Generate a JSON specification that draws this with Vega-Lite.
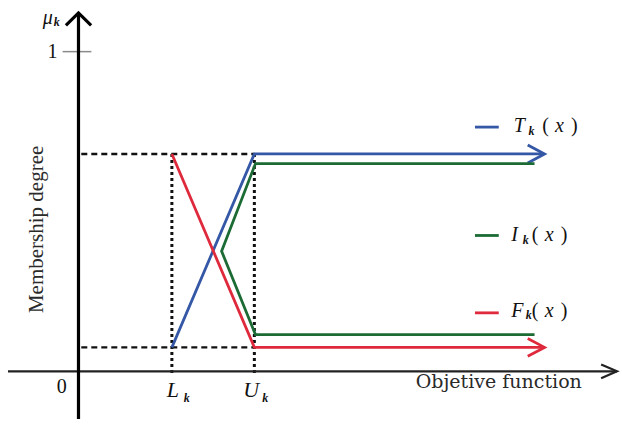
{
  "$schema": "https://vega.github.io/schema/vega-lite/v6.json",
  "width": 622,
  "height": 426,
  "autosize": {"type": "fit", "contains": "padding"},
  "padding": 0,
  "background": "white",
  "config": {"view": {"stroke": null}},
  "datasets": {
    "guides": [
      {"id": "top", "o": 1, "x": 0.03, "y": 0.68},
      {"id": "top", "o": 2, "x": 1.883, "y": 0.68},
      {"id": "bot", "o": 1, "x": 0.03, "y": 0.075},
      {"id": "bot", "o": 2, "x": 1.883, "y": 0.075}
    ],
    "dots": [
      {"id": "L", "o": 1, "x": 1.0, "y": 0.68},
      {"id": "L", "o": 2, "x": 1.0, "y": -0.01},
      {"id": "U", "o": 1, "x": 1.883, "y": 0.68},
      {"id": "U", "o": 2, "x": 1.883, "y": -0.01}
    ],
    "yaxis": [
      {"id": "ya", "o": 1, "x": 0, "y": -0.149},
      {"id": "ya", "o": 2, "x": 0, "y": 1.121},
      {"id": "yh", "o": 1, "x": -0.135, "y": 1.082},
      {"id": "yh", "o": 2, "x": 0, "y": 1.121},
      {"id": "yh", "o": 3, "x": 0.135, "y": 1.082}
    ],
    "xaxis": [
      {"id": "xa", "o": 1, "x": -0.755, "y": 0},
      {"id": "xa", "o": 2, "x": 5.766, "y": 0},
      {"id": "xh", "o": 1, "x": 5.596, "y": 0.0217},
      {"id": "xh", "o": 2, "x": 5.766, "y": 0},
      {"id": "xh", "o": 3, "x": 5.596, "y": -0.0217}
    ],
    "tick": [
      {"id": "t1", "o": 1, "x": -0.17, "y": 1},
      {"id": "t1", "o": 2, "x": 0.138, "y": 1}
    ],
    "curves": [
      {"id": "T", "s": "T", "o": 1, "x": 1.0, "y": 0.075},
      {"id": "T", "s": "T", "o": 2, "x": 1.883, "y": 0.68},
      {"id": "T", "s": "T", "o": 3, "x": 4.98, "y": 0.68},
      {"id": "Ta", "s": "T", "o": 1, "x": 4.81, "y": 0.708},
      {"id": "Ta", "s": "T", "o": 2, "x": 4.99, "y": 0.68},
      {"id": "Ta", "s": "T", "o": 3, "x": 4.81, "y": 0.652},
      {"id": "F", "s": "F", "o": 1, "x": 1.0, "y": 0.68},
      {"id": "F", "s": "F", "o": 2, "x": 1.883, "y": 0.075},
      {"id": "F", "s": "F", "o": 3, "x": 4.98, "y": 0.075},
      {"id": "Fa", "s": "F", "o": 1, "x": 4.81, "y": 0.103},
      {"id": "Fa", "s": "F", "o": 2, "x": 4.99, "y": 0.075},
      {"id": "Fa", "s": "F", "o": 3, "x": 4.81, "y": 0.047},
      {"id": "I", "s": "I", "o": 1, "x": 4.883, "y": 0.65},
      {"id": "I", "s": "I", "o": 2, "x": 1.895, "y": 0.65},
      {"id": "I", "s": "I", "o": 3, "x": 1.532, "y": 0.376},
      {"id": "I", "s": "I", "o": 4, "x": 1.895, "y": 0.115},
      {"id": "I", "s": "I", "o": 5, "x": 4.883, "y": 0.115},
      {"id": "kT", "s": "T", "o": 1, "x": 4.245, "y": 0.764},
      {"id": "kT", "s": "T", "o": 2, "x": 4.5, "y": 0.764},
      {"id": "kI", "s": "I", "o": 1, "x": 4.245, "y": 0.425},
      {"id": "kI", "s": "I", "o": 2, "x": 4.5, "y": 0.425},
      {"id": "kF", "s": "F", "o": 1, "x": 4.245, "y": 0.183},
      {"id": "kF", "s": "F", "o": 2, "x": 4.5, "y": 0.183}
    ],
    "italic": [
      {"t": "μ", "x": -0.33, "y": 1.106},
      {"t": "T", "x": 4.72, "y": 0.767},
      {"t": "x", "x": 5.15, "y": 0.767},
      {"t": "I", "x": 4.67, "y": 0.425},
      {"t": "x", "x": 5.04, "y": 0.425},
      {"t": "F", "x": 4.7, "y": 0.189},
      {"t": "x", "x": 5.04, "y": 0.189}
    ],
    "bigitalic": [
      {"t": "L", "x": 1.01, "y": -0.059},
      {"t": "U", "x": 1.85, "y": -0.059}
    ],
    "subs": [
      {"t": "k", "x": -0.234, "y": 1.093},
      {"t": "k", "x": 4.85, "y": 0.753},
      {"t": "k", "x": 4.79, "y": 0.41},
      {"t": "k", "x": 4.82, "y": 0.175},
      {"t": "k", "x": 1.16, "y": -0.083},
      {"t": "k", "x": 2.0, "y": -0.083}
    ],
    "plain": [
      {"t": "1", "x": -0.277, "y": 1.0},
      {"t": "0", "x": -0.18, "y": -0.05},
      {"t": "(", "x": 5.0, "y": 0.767},
      {"t": ")", "x": 5.31, "y": 0.767},
      {"t": "(", "x": 4.89, "y": 0.425},
      {"t": ")", "x": 5.2, "y": 0.425},
      {"t": "(", "x": 4.89, "y": 0.189},
      {"t": ")", "x": 5.2, "y": 0.189}
    ],
    "xtitle": [{"t": "Objetive function", "x": 4.5, "y": -0.034}],
    "ytitle": [{"t": "Membership degree", "x": -0.447, "y": 0.444}]
  },
  "encoding": {
    "x": {"field": "x", "type": "quantitative", "scale": {"domain": [-0.8404, 5.7766], "nice": false, "zero": false}, "axis": null},
    "y": {"field": "y", "type": "quantitative", "scale": {"domain": [-0.1615, 1.1615], "nice": false, "zero": false}, "axis": null}
  },
  "layer": [
    {"data": {"name": "guides"}, "mark": {"type": "line", "color": "#111111", "strokeWidth": 2.4, "strokeDash": [6, 4]},
     "encoding": {"detail": {"field": "id"}, "order": {"field": "o"}}},
    {"data": {"name": "dots"}, "mark": {"type": "line", "color": "#111111", "strokeWidth": 3, "strokeDash": [3, 3]},
     "encoding": {"detail": {"field": "id"}, "order": {"field": "o"}}},
    {"data": {"name": "tick"}, "mark": {"type": "line", "color": "#8a8a8a", "strokeWidth": 1.5},
     "encoding": {"detail": {"field": "id"}, "order": {"field": "o"}}},
    {"data": {"name": "xaxis"}, "mark": {"type": "line", "color": "#222222", "strokeWidth": 2.2},
     "encoding": {"detail": {"field": "id"}, "order": {"field": "o"}}},
    {"data": {"name": "yaxis"}, "mark": {"type": "line", "color": "#000000", "strokeWidth": 3.2},
     "encoding": {"detail": {"field": "id"}, "order": {"field": "o"}}},
    {"data": {"name": "curves"}, "mark": {"type": "line", "strokeWidth": 2.8},
     "encoding": {
       "detail": {"field": "id"}, "order": {"field": "o"},
       "color": {"field": "s", "type": "nominal", "scale": {"domain": ["T", "I", "F"], "range": ["#3457a6", "#1c6b35", "#de2a3c"]}, "legend": null}
     }},
    {"data": {"name": "italic"}, "mark": {"type": "text", "font": "Liberation Serif", "fontStyle": "italic", "fontSize": 20, "color": "#111111", "align": "center", "baseline": "middle"},
     "encoding": {"text": {"field": "t"}}},
    {"data": {"name": "bigitalic"}, "mark": {"type": "text", "font": "Liberation Serif", "fontStyle": "italic", "fontSize": 22, "color": "#111111", "align": "center", "baseline": "middle"},
     "encoding": {"text": {"field": "t"}}},
    {"data": {"name": "subs"}, "mark": {"type": "text", "font": "Liberation Serif", "fontStyle": "italic", "fontWeight": "bold", "fontSize": 12, "color": "#111111", "align": "center", "baseline": "middle"},
     "encoding": {"text": {"field": "t"}}},
    {"data": {"name": "plain"}, "mark": {"type": "text", "font": "Liberation Serif", "fontSize": 20, "color": "#111111", "align": "center", "baseline": "middle"},
     "encoding": {"text": {"field": "t"}}},
    {"data": {"name": "xtitle"}, "mark": {"type": "text", "font": "DejaVu Serif", "fontSize": 19, "color": "#2a2a2a", "align": "center", "baseline": "middle"},
     "encoding": {"text": {"field": "t"}}},
    {"data": {"name": "ytitle"}, "mark": {"type": "text", "font": "Liberation Serif", "fontSize": 21, "angle": 270, "color": "#2a2a2a", "align": "center", "baseline": "middle"},
     "encoding": {"text": {"field": "t"}}}
  ]
}
